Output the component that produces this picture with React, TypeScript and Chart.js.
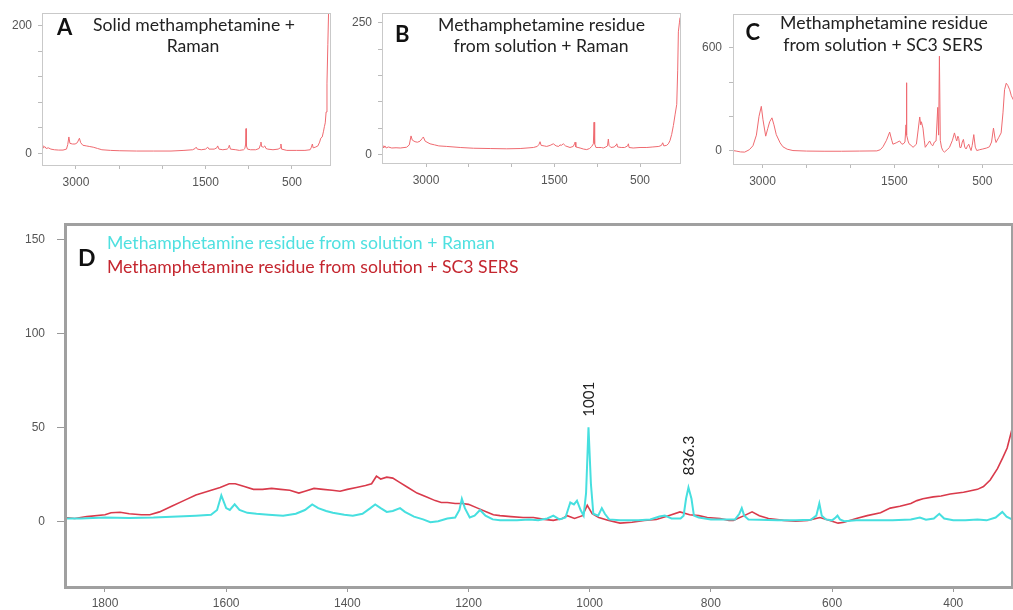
import React, { useEffect, useRef } from "react";
import { Chart, registerables } from "chart.js";

Chart.register(...registerables);

// ---------- Panel A : Solid methamphetamine + Raman ----------
const aWavenumber = [3393,3385,3375,3360,3345,3320,3290,3250,3200,3150,3110,3095,3082,3070,3040,3010,2985,2960,2945,2920,2880,2840,2800,2750,2700,2600,2500,2300,2100,1900,1750,1650,1620,1609,1595,1550,1500,1475,1460,1400,1370,1360,1345,1300,1250,1235,1225,1212,1150,1109,1060,1045,1036,1032,1027,1015,980,920,880,865,859,852,830,815,801,780,720,660,635,628,620,560,450,350,290,275,264,255,230,200,180,167,150,135,125,115,105,95,85,75,60];
const aIntensity = [10,13,9,11,8,9,7,6,5.5,5.5,7,14,26,16,15,15,17,24,17,13,12,11,10,8,6,5,4.5,4,4,4,5,6,8,10,7,6,7,10,7,7,9,12,7,6,7,9,13,7,6,5,6,8,15,39,12,7,6,6,8,14,18,11,10,12,8,7,6,7,9,15,7,5,5,5,6,10,15,9,10,12,18,24,26,35,42,48,65,110,170,230,280];

// ---------- Panel B : Methamphetamine residue from solution + Raman ----------
const bWavenumber = [3514,3505,3495,3480,3465,3440,3400,3350,3300,3226,3195,3175,3160,3128,3100,3070,3045,3031,3010,2953,2900,2850,2758,2600,2447,2250,2057,1900,1746,1700,1680,1668,1655,1620,1590,1550,1513,1480,1450,1435,1420,1396,1370,1318,1280,1265,1259,1250,1200,1160,1123,1090,1064,1045,1037,1030,1015,980,950,929,900,880,870,862,840,800,780,772,762,720,680,645,636,628,580,500,420,350,280,250,235,222,190,169,150,130,110,91,71,60,52,40,33];
const bIntensity = [14,17,12,16,12,14,12,12.5,12,13.5,18,35,27,24,23,25,30,33,25,20,18,16,15,13,11.6,11,10.5,11,13,15,19,24,17,16,15,17,20,16,15,18,17,20,16,13,15,20,23,14,12,10,9,11,15,20,61,20,13,13,13,12,14,16,29,17,13,14,18,20,14,13,13,16,20,13,12,13,13,14,15,17,22,16,17,20,26,38,55,75,95,160,233,250,260];

// ---------- Panel C : Methamphetamine residue from solution + SC3 SERS ----------
const cWavenumber = [3336,3300,3250,3203,3150,3109,3070,3040,3014,2995,2964,2940,2919,2893,2870,2844,2800,2768,2720,2654,2500,2300,2100,1900,1700,1660,1630,1590,1554,1530,1517,1480,1440,1420,1402,1380,1368,1364,1358,1345,1334,1310,1288,1265,1250,1230,1212,1200,1193,1175,1160,1149,1120,1099,1080,1064,1045,1026,1007,997,988,978,965,950,931,900,874,840,817,800,791,778,768,755,742,728,715,700,685,670,654,640,628,615,597,580,563,530,495,450,419,395,373,355,344,315,286,265,247,228,210,189,170,150,120,90,60];
const cIntensity = [0,-3,-8,-9,5,28,90,200,258,180,84,130,168,191,150,93,45,22,8,0,-3,-4,-4,-3,-2,5,22,60,108,60,37,45,56,40,37,50,150,396,90,56,40,30,19,30,37,120,196,150,168,131,60,19,40,56,35,28,50,56,252,90,551,60,20,0,-9,5,18,60,103,70,56,84,70,18,18,50,65,20,9,25,37,15,0,30,93,20,0,5,9,15,22,50,131,70,47,75,103,220,355,393,380,355,320,299,270,250,240];

// ---------- Panel D : overlay ----------
const dRamanWavenumber = [1866,1840,1800,1760,1720,1680,1650,1625,1615,1608,1600,1594,1586,1578,1565,1550,1530,1506,1485,1470,1458,1448,1435,1424,1405,1391,1375,1362,1354,1345,1335,1325,1313,1305,1290,1275,1263,1250,1235,1222,1215,1211,1206,1198,1190,1181,1172,1160,1148,1120,1100,1085,1070,1060,1050,1040,1032,1026,1021,1015,1010,1006,1002,998,994,986,980,975,968,950,920,900,885,876,865,850,845,841,837,832,828,820,800,780,760,753,749,745,738,720,690,660,635,626,621,617,610,600,594,591,587,580,560,530,500,470,455,445,432,423,415,400,380,360,345,330,319,312,303];
const dRamanIntensity = [1.5,1.5,2,1.8,2,2.5,3,3.5,6,13.8,7,6,9,6,4.5,4,3.5,3,4,6,9,7,5.5,4.5,3.5,3,4,7,9,7,5,5.5,7,5,2.5,1,-0.5,0,1.5,2,6,12,7,2,3,6,3,1,0.5,0.5,1,0.5,1.5,3,1,2,10,9,11,6,3,15,50,20,4,3,7,4,1,0.5,0.5,1,2.5,3,1.5,1.5,3,12,18,12,3,2,1,1,1,4,7,3,1,0.8,0.5,0.5,0.8,3,9.5,3,1,0.5,2,3,1,0,0.5,0.5,0.5,1,2,0.8,1.5,4,1.5,0.5,0.5,1,0.5,2,5,2.5,1];
const dSersWavenumber = [1866,1850,1830,1800,1790,1775,1760,1740,1726,1710,1690,1670,1650,1630,1610,1595,1585,1570,1555,1540,1525,1510,1495,1480,1470,1455,1440,1425,1412,1400,1385,1370,1360,1352,1345,1335,1325,1315,1300,1285,1270,1255,1245,1235,1222,1210,1200,1185,1170,1159,1148,1130,1110,1093,1075,1060,1045,1037,1025,1012,1004,996,985,970,950,930,910,890,870,851,835,820,806,785,770,763,745,732,720,705,680,660,640,620,605,590,580,560,542,520,504,488,470,460,450,433,420,405,383,375,360,350,339,327,318,311,303];
const dSersIntensity = [2,1.5,2.5,3.5,4.5,4.8,4,3.5,3.5,5,8,11,14,16,18,20,20,18.5,17,17,17.5,17,16.5,15,16,17.5,17,16.5,16,17,18,19,20,24,22.5,23.5,23,21,18,15,13,11,10,10,9.5,9.5,9,7,5,3.5,3,2.5,2,2,1,0.5,1.5,3,1.5,3,8.5,4,2,0.5,-1,-0.5,0.5,1,3,5,3.5,3,2,1.5,0.5,0.5,3,5,3,1.5,0.5,0,0.5,2,0.5,-1,-0.5,1.5,3,4.5,7,8,9.5,11,12,13,13.5,14.5,15.5,16,17,18.5,22,28,34,39,49];

// ---------- ticks & labels ----------
const topTicksX = [3000, 2500, 2000, 1500, 1000, 500];
const topLabelsX = [3000, 1500, 500];
const aTicksY = [0, 40, 80, 120, 160, 200];
const aLabelsY = [0, 200];
const bTicksY = [0, 50, 100, 150, 200, 250];
const bLabelsY = [0, 250];
const cTicksY = [0, 200, 400, 600];
const cLabelsY = [0, 600];
const dTicksX = [1800, 1600, 1400, 1200, 1000, 800, 600, 400];
const dTicksY = [0, 50, 100, 150];

const aTitle = ["Solid methamphetamine +", "Raman"];
const bTitle = ["Methamphetamine residue", "from solution + Raman"];
const cTitle = ["Methamphetamine residue", "from solution + SC3 SERS"];
const dLegend = ["Methamphetamine residue from solution + Raman", "Methamphetamine residue from solution + SC3 SERS"];
const peakLabels = ["1001", "836.3"];
const peakPositions = [1001, 836.3];
const peakLabelHeights = [65, 35];

const TITLE_FONT = "Lato, 'Open Sans', sans-serif";
const TICK_FONT = "'Liberation Sans', Arial, sans-serif";

type TextItem = {
  text: string;
  x?: number;
  y?: number;
  dataX?: number;
  dataY?: number;
  size: number;
  weight?: string;
  color: string;
  align?: CanvasTextAlign;
  baseline?: CanvasTextBaseline;
  fitWidth?: number;
  fitRef?: string;
  rotate?: boolean;
};

function pts(xs: number[], ys: number[]) {
  return xs.map((x, i) => ({ x, y: ys[i] }));
}

function textPlugin(items: TextItem[], offX: number, offY: number) {
  return {
    id: "texts",
    afterDraw(chart: any) {
      const ctx = chart.ctx as CanvasRenderingContext2D;
      ctx.save();
      for (const it of items) {
        const w = it.weight || "normal";
        let size = it.size;
        if (it.fitWidth) {
          ctx.font = `${w} ${size}px ${TITLE_FONT}`;
          const m = ctx.measureText(it.fitRef || it.text).width;
          size = (size * it.fitWidth) / m;
        }
        ctx.font = `${w} ${size}px ${TITLE_FONT}`;
        ctx.fillStyle = it.color;
        ctx.textAlign = it.align || "left";
        ctx.textBaseline = it.baseline || "alphabetic";
        let x: number, y: number;
        if (it.dataX !== undefined) {
          x = chart.scales.x.getPixelForValue(it.dataX);
          y = chart.scales.y.getPixelForValue(it.dataY);
        } else {
          x = (it.x as number) - offX;
          y = (it.y as number) - offY;
        }
        if (it.rotate) {
          ctx.save();
          ctx.translate(x, y);
          ctx.rotate(-Math.PI / 2);
          ctx.fillText(it.text, 0, 0);
          ctx.restore();
        } else {
          ctx.fillText(it.text, x, y);
        }
      }
      ctx.restore();
    },
  };
}

function framePlugin(color: string, width: number) {
  return {
    id: "frame",
    afterDatasetsDraw(chart: any) {
      const { left, top, right, bottom } = chart.chartArea;
      const ctx = chart.ctx as CanvasRenderingContext2D;
      ctx.save();
      ctx.strokeStyle = color;
      ctx.lineWidth = width;
      const o = width % 2 === 1 ? 0.5 : 0;
      ctx.strokeRect(Math.round(left) + o, Math.round(top) + o, Math.round(right - left), Math.round(bottom - top));
      ctx.restore();
    },
  };
}

type PanelSpec = {
  left: number;
  top: number;
  width: number;
  height: number;
  yW: number;
  xH: number;
  padTop: number;
  padRight: number;
  xMin: number;
  xMax: number;
  yMin: number;
  yMax: number;
  xTicks: number[];
  xLabels: number[];
  yTicks: number[];
  yLabels: number[];
  datasets: any[];
  texts: TextItem[];
  frameColor: string;
  frameWidth: number;
  tickColor: string;
  xTickLen: number;
  yTickLen: number;
  xPad: number;
  yPad: number;
};

function buildConfig(p: PanelSpec): any {
  return {
    type: "line",
    data: { datasets: p.datasets },
    options: {
      responsive: false,
      animation: false,
      devicePixelRatio: 1,
      layout: { padding: { top: p.padTop, right: p.padRight, left: 0, bottom: 0 } },
      elements: { point: { radius: 0 }, line: { tension: 0 } },
      plugins: { legend: { display: false }, tooltip: { enabled: false } },
      scales: {
        x: {
          type: "linear",
          reverse: true,
          min: p.xMin,
          max: p.xMax,
          afterBuildTicks: (s: any) => {
            s.ticks = p.xTicks.map((v) => ({ value: v }));
          },
          afterFit: (s: any) => {
            s.height = p.xH;
          },
          ticks: {
            autoSkip: false,
            maxRotation: 0,
            padding: p.xPad,
            color: "#555",
            font: { family: TICK_FONT, size: 12 },
            callback: (v: number) => (p.xLabels.includes(v) ? String(v) : ""),
          },
          grid: { drawOnChartArea: false, drawTicks: true, tickLength: p.xTickLen, color: p.tickColor },
          border: { display: false },
        },
        y: {
          type: "linear",
          min: p.yMin,
          max: p.yMax,
          afterBuildTicks: (s: any) => {
            s.ticks = p.yTicks.map((v) => ({ value: v }));
          },
          afterFit: (s: any) => {
            s.width = p.yW;
          },
          ticks: {
            padding: p.yPad,
            color: "#555",
            font: { family: TICK_FONT, size: 12 },
            callback: (v: number) => (p.yLabels.includes(v) ? String(v) : ""),
          },
          grid: { drawOnChartArea: false, drawTicks: true, tickLength: p.yTickLen, color: p.tickColor },
          border: { display: false },
        },
      },
    },
    plugins: [framePlugin(p.frameColor, p.frameWidth), textPlugin(p.texts, p.left, p.top)],
  };
}

function Panel({ spec }: { spec: PanelSpec }) {
  const ref = useRef<HTMLCanvasElement>(null);
  useEffect(() => {
    const chart = new Chart(ref.current as HTMLCanvasElement, buildConfig(spec));
    return () => chart.destroy();
  }, []);
  return (
    <canvas
      ref={ref}
      width={spec.width}
      height={spec.height}
      style={{ position: "absolute", left: spec.left, top: spec.top, width: spec.width, height: spec.height }}
    />
  );
}

const TOP_LINE = "#ef6a70";

const topCommon = {
  frameColor: "#c9c9c9",
  frameWidth: 1,
  tickColor: "#bbbbbb",
  xTickLen: 4,
  yTickLen: 4,
  xPad: 6,
  xTicks: topTicksX,
  xLabels: topLabelsX,
};

const specA: PanelSpec = {
  ...topCommon,
  left: 0, top: 0, width: 340, height: 200,
  yW: 42, xH: 35, padTop: 5, padRight: 10, yPad: 6,
  xMin: 60, xMax: 3393, yMin: -17.8, yMax: 219.3,
  yTicks: aTicksY, yLabels: aLabelsY,
  datasets: [{ data: pts(aWavenumber, aIntensity), borderColor: TOP_LINE, borderWidth: 1 }],
  texts: [
    { text: "A", x: 57, y: 35, size: 22, weight: "bold", color: "#111" },
    { text: aTitle[0], x: 194, y: 30.7, size: 17, color: "#222", align: "center", fitWidth: 202 },
    { text: aTitle[1], x: 193, y: 51.7, size: 17, color: "#222", align: "center", fitWidth: 202, fitRef: aTitle[0] },
  ],
};

const specB: PanelSpec = {
  ...topCommon,
  left: 340, top: 0, width: 345, height: 200,
  yW: 42, xH: 37, padTop: 8, padRight: 5, yPad: 6,
  xMin: 33, xMax: 3514, yMin: -16.5, yMax: 268.4,
  yTicks: bTicksY, yLabels: bLabelsY,
  datasets: [{ data: pts(bWavenumber, bIntensity), borderColor: TOP_LINE, borderWidth: 1 }],
  texts: [
    { text: "B", x: 395, y: 41.7, size: 22, weight: "bold", color: "#111" },
    { text: bTitle[0], x: 541.5, y: 30.7, size: 17, color: "#222", align: "center", fitWidth: 207 },
    { text: bTitle[1], x: 541, y: 51.7, size: 17, color: "#222", align: "center", fitWidth: 207, fitRef: bTitle[0] },
  ],
};

const specC: PanelSpec = {
  ...topCommon,
  left: 680, top: 0, width: 345, height: 200,
  yW: 53, xH: 36, padTop: 8, padRight: 4, yPad: 7,
  xMin: 60, xMax: 3336, yMin: -78.5, yMax: 796,
  yTicks: cTicksY, yLabels: cLabelsY,
  datasets: [{ data: pts(cWavenumber, cIntensity), borderColor: TOP_LINE, borderWidth: 1 }],
  texts: [
    { text: "C", x: 745.5, y: 40, size: 22, weight: "bold", color: "#111" },
    { text: cTitle[0], x: 884, y: 29.3, size: 17, color: "#222", align: "center", fitWidth: 208 },
    { text: cTitle[1], x: 883, y: 50.7, size: 17, color: "#222", align: "center", fitWidth: 208, fitRef: cTitle[0] },
  ],
};

const specD: PanelSpec = {
  left: 0, top: 205, width: 1013, height: 405,
  yW: 65, xH: 23, padTop: 17, padRight: 1,
  xMin: 303, xMax: 1866, yMin: -35, yMax: 158.2,
  xTicks: dTicksX, xLabels: dTicksX,
  yTicks: dTicksY, yLabels: dTicksY,
  frameColor: "#a0a0a0", frameWidth: 3, tickColor: "#999999",
  xTickLen: 5, yTickLen: 8, xPad: 4, yPad: 12,
  datasets: [
    { data: pts(dRamanWavenumber, dRamanIntensity), borderColor: "#46dfdf", borderWidth: 2 },
    { data: pts(dSersWavenumber, dSersIntensity), borderColor: "#d93a4b", borderWidth: 1.6 },
  ],
  texts: [
    { text: "D", x: 78, y: 266, size: 23, weight: "bold", color: "#111" },
    { text: dLegend[0], x: 107, y: 249, size: 17, color: "#4fe0e0", fitWidth: 388 },
    { text: dLegend[1], x: 107, y: 273, size: 17, color: "#c4262f", fitWidth: 388, fitRef: dLegend[0] },
    { text: peakLabels[0], dataX: peakPositions[0], dataY: peakLabelHeights[0], size: 16, color: "#222", align: "center", baseline: "middle", rotate: true, fitWidth: 35 },
    { text: peakLabels[1], dataX: peakPositions[1], dataY: peakLabelHeights[1], size: 16, color: "#222", align: "center", baseline: "middle", rotate: true, fitWidth: 40 },
  ],
};

export default function App() {
  return (
    <div
      style={{
        position: "fixed",
        left: 0,
        top: 0,
        width: 1013,
        height: 610,
        overflow: "hidden",
        background: "#ffffff",
      }}
    >
      <Panel spec={specA} />
      <Panel spec={specB} />
      <Panel spec={specC} />
      <Panel spec={specD} />
    </div>
  );
}
